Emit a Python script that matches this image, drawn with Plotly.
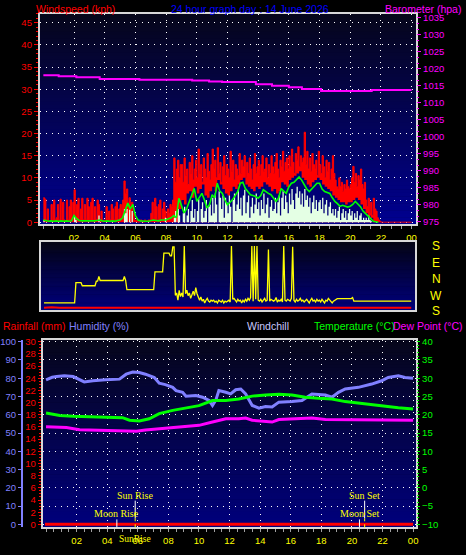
import plotly.graph_objects as go

W, H = 466, 555

# ---------------- data ----------------
hour_ticks = [2, 4, 6, 8, 10, 12, 14, 16, 18, 20, 22, 24]
hour_labels = ["02", "04", "06", "08", "10", "12", "14", "16", "18", "20", "22", "00"]

# wind gust (kph), 5-minute steps from 00:00, last value = 24:00
gust = [
    5.5, 5.2, 0.5, 3.0, 0.3, 0.3, 4.0, 0.3, 5.0, 0.5, 1.0, 4.0,
    0.5, 5.2, 0.3, 4.5, 0.5, 0.3, 5.0, 0.5, 3.5, 5.0, 0.5, 4.5,
    7.3, 0.5, 4.0, 5.4, 0.5, 3.0, 5.4, 0.5, 4.0, 0.5, 5.4, 3.5,
    0.5, 4.5, 5.4, 0.5, 3.5, 0.5, 5.0, 4.0, 0.5, 2.5, 0.3, 0.5,
    0.3, 3.5, 0.5, 2.5, 0.5, 4.0, 3.0, 0.5, 3.5, 4.5, 0.5, 3.0,
    4.0, 0.5, 5.0, 9.3, 6.5, 7.5, 4.0, 5.5, 3.0, 4.5, 2.0, 0.5,
    0.5, 0.3, 0.0, 0.3, 0.5, 0.3, 0.0, 0.5, 0.3, 0.3, 0.5, 0.5,
    2.0, 4.5, 0.5, 5.4, 3.5, 0.5, 4.0, 5.0, 0.5, 3.0, 4.5, 2.5,
    0.5, 3.0, 2.0, 4.0, 3.5, 5.0, 14.5, 9.0, 12.0, 14.0, 10.0, 13.0,
    13.0, 9.0, 14.5, 10.5, 12.0, 8.5, 13.5, 11.0, 15.0, 9.5, 12.0, 14.0,
    10.0, 16.5, 11.0, 13.0, 9.0, 14.5, 12.0, 10.0, 15.5, 11.5, 9.5, 13.0,
    16.5, 12.0, 14.0, 10.0, 16.8, 11.0, 13.5, 9.0, 12.5, 15.0, 10.5, 13.0,
    12.0, 10.0, 16.0, 11.5, 14.0, 9.5, 13.0, 12.0, 10.5, 15.5, 11.0, 14.0,
    12.5, 15.0, 10.0, 13.5, 11.0, 14.5, 12.0, 9.5, 13.0, 15.5, 11.0, 12.5,
    14.0, 10.5, 13.0, 15.0, 11.5, 12.0, 14.5, 10.0, 13.0, 11.0, 15.0, 12.5,
    11.0, 13.5, 15.5, 12.0, 10.0, 14.0, 12.5, 16.0, 11.5, 13.5, 14.5, 12.0,
    15.0, 12.5, 16.5, 13.5, 11.0, 15.5, 14.0, 17.0, 12.5, 15.0, 13.5, 14.5,
    20.3, 13.0, 16.0, 12.0, 14.5, 11.5, 15.5, 13.0, 12.0, 14.0, 10.5, 16.0,
    13.0, 11.0, 15.0, 12.5, 10.0, 14.0, 11.5, 13.5, 9.5, 12.0, 15.0, 11.0,
    9.5, 8.0, 7.5, 10.0, 8.0, 9.0, 7.0, 8.5, 7.5, 9.5, 8.0, 7.5,
    8.5, 10.0, 12.6, 9.0, 11.0, 8.0, 10.5, 9.5, 12.0, 8.5, 7.5, 9.0,
    5.0, 3.5, 5.4, 2.0, 4.5, 1.5, 5.4, 3.0, 2.5, 1.0, 0.5, 0.2,
    0, 0, 0, 0, 0, 0, 0, 0, 0, 0, 0, 0,
    0, 0, 0, 0, 0, 0, 0, 0, 0, 0, 0, 0,
    0]

# wind speed (kph), 5-minute steps
speed = [
    0.5, 0, 0, 0, 0, 0, 0, 0, 0, 0, 0, 0,
    0, 0, 0, 0, 0, 0, 0, 0, 0, 0, 0, 0,
    1.2, 0.5, 0, 0, 0, 0, 0, 0, 0, 0, 0, 0,
    0, 0, 0, 0, 0, 0, 0, 1.5, 0, 0, 0, 0,
    0, 0, 0, 0, 0, 0, 0, 0, 0, 0, 0, 0,
    0, 0, 0, 3.0, 2.0, 3.0, 0, 2.8, 0, 2.5, 0, 0,
    0, 0, 0, 0, 0, 0, 0, 0, 0, 0, 0, 0,
    0, 0, 0, 0, 0, 0, 0, 0, 0, 0, 0, 1.0,
    0, 0, 0, 0, 0, 0, 1.0, 2.5, 0, 3.0, 1.5, 0,
    0, 2.0, 3.5, 0, 1.5, 3.0, 0, 2.5, 5.0, 1.0, 3.0, 0,
    2.5, 5.2, 0, 3.0, 4.5, 1.0, 2.5, 5.0, 0, 3.5, 4.0, 1.5,
    5.5, 2.0, 6.5, 4.0, 0, 7.0, 5.5, 3.0, 6.0, 1.0, 5.5, 4.5,
    2.0, 6.0, 3.5, 0, 5.0, 6.5, 2.5, 4.0, 7.3, 3.0, 5.5, 1.5,
    6.0, 7.3, 2.0, 4.5, 6.0, 1.0, 3.5, 5.5, 2.0, 4.0, 6.5, 3.0,
    4.5, 1.5, 5.0, 3.0, 6.5, 2.0, 4.0, 5.5, 1.0, 3.5, 5.0, 2.5,
    3.0, 5.5, 2.0, 4.5, 6.0, 1.5, 5.5, 7.0, 3.0, 6.0, 4.5, 2.0,
    6.5, 4.0, 7.5, 5.0, 3.0, 6.5, 8.0, 5.5, 7.0, 4.0, 6.5, 3.5,
    7.5, 5.0, 6.0, 3.5, 5.5, 2.0, 4.5, 6.0, 3.0, 5.0, 2.5, 4.5,
    5.0, 3.0, 5.5, 2.0, 4.0, 5.0, 1.5, 3.5, 4.5, 2.0, 3.0, 1.5,
    3.0, 1.0, 2.5, 3.5, 0.5, 2.0, 3.0, 1.0, 2.5, 0.5, 2.0, 3.0,
    1.5, 2.5, 0.5, 2.0, 1.0, 2.5, 0.5, 1.5, 2.0, 0.5, 1.0, 0.5,
    1.0, 0.5, 1.5, 0.5, 0.2, 0, 0, 0, 0, 0, 0, 0,
    0, 0, 0, 0, 0, 0, 0, 0, 0, 0, 0, 0,
    0, 0, 0, 0, 0, 0, 0, 0, 0, 0, 0, 0,
    0]

# wind lull (kph), 10-minute steps
lull = [
    0, 0, 0, 0, 0, 0,  0, 0, 0, 0, 0, 0,  0, 0, 0, 0, 0, 0,  0, 0, 0, 0, 0, 0,
    0, 0, 0, 0, 0, 0,  0, 0, 0, 0, 0, 0,  0, 0, 0, 0, 0, 0,  0, 0, 0, 0, 0, 0,
    0, 0, 0, 0, 0, 3.0,
    5.0, 4.0, 6.5, 7.0, 5.5, 8.0,
    6.5, 7.5, 8.5, 6.0, 5.5, 7.0,
    8.0, 7.0, 9.5, 8.5, 7.5, 6.5,
    6.0, 7.0, 8.0, 7.5, 8.5, 9.5,
    10.0, 8.5, 8.0, 7.5, 7.0, 8.0,
    7.5, 8.0, 9.0, 8.5, 8.0, 7.0,
    7.5, 6.5, 7.0, 9.0, 8.5, 8.0,
    9.5, 10.0, 10.5, 11.0, 11.5, 10.0,
    9.5, 8.5, 8.0, 9.0, 9.5, 10.0,
    9.5, 8.5, 8.0, 7.5, 7.0, 6.0,
    5.5, 5.0, 4.5, 4.5, 4.0, 4.5,
    4.5, 5.0, 5.5, 5.0, 4.0, 3.0,
    2.0, 1.5, 1.0, 0, 0, 0,
    0, 0, 0, 0, 0, 0,  0, 0, 0, 0, 0, 0,
    0]

# average wind speed (kph), 10-minute steps
avg_speed = [
    0.5, 0.3, 0.2, 0.3, 0.2, 0.3,
    0.2, 0.3, 0.2, 0.3, 0.2, 0.3,
    1.5, 0.8, 0.4, 0.3, 0.3, 0.2,
    0.3, 0.2, 0.3, 0.4, 0.5, 0.3,
    0.2, 0.3, 0.2, 0.3, 0.2, 0.4,
    0.5, 1.0, 2.5, 4.3, 3.0, 4.0,
    1.5, 0.5, 0.3, 0.2, 0.2, 0.2,
    0.3, 0.5, 0.4, 0.3, 0.5, 0.5,
    0.5, 0.8, 1.0, 1.5, 1.0, 5.4,
    3.9, 2.1, 3.0, 4.7, 6.0, 7.6,
    4.7, 5.5, 6.5, 5.0, 3.2, 4.0,
    6.2, 5.5, 8.8, 7.0, 6.5, 5.0,
    3.9, 4.5, 5.1, 6.0, 6.9, 8.8,
    9.0, 7.6, 7.0, 6.2, 6.0, 5.8,
    5.4, 6.0, 7.3, 6.8, 6.5, 6.2,
    5.5, 4.7, 5.5, 7.6, 7.0, 6.5,
    8.0, 8.8, 9.0, 9.5, 10.2, 9.5,
    8.4, 7.5, 6.9, 7.5, 8.2, 8.8,
    8.8, 7.5, 6.9, 6.7, 6.5, 5.5,
    4.7, 4.2, 3.6, 3.8, 3.6, 3.4,
    3.6, 4.0, 4.7, 4.2, 3.5, 2.5,
    2.0, 1.3, 0.8, 0.2, 0.1, 0.0,
    None, None, None, None, None, None,
    None, None, None, None, None, None,
    None]

# barometer (hPa)
baro_hours = [0, 0.94, 1.0, 2.15, 3.67, 6.26, 9.7, 10.8, 11.65, 13.85, 14.9,
              16.0, 16.85, 18.1, 20.3, 21.4, 24.0]
baro = [1018.1, 1018.1, 1017.8, 1017.5, 1017.0, 1016.8, 1016.6, 1016.3, 1016.1,
        1015.5, 1015.0, 1014.6, 1014.1, 1013.5, 1013.5, 1013.8, 1013.8]

# wind direction, 5-minute steps, on a scale S(0) W(90) N(180) E(270) S(360)
wind_dir = [
    45, 45, 45, 45, 45, 45, 45, 45, 45, 45, 45, 45,
    45, 45, 45, 45, 45, 45, 45, 45, 45, 45, 45, 45,
    45, 157, 157, 157, 157, 157, 140, 140, 140, 140, 140, 140,
    140, 140, 140, 140, 140, 165, 165, 191, 169, 169, 169, 169,
    169, 169, 169, 169, 169, 169, 169, 169, 169, 169, 169, 169,
    169, 169, 169, 191, 169, 118, 118, 118, 118, 118, 118, 118,
    118, 118, 118, 118, 118, 118, 118, 118, 118, 118, 118, 118,
    118, 118, 118, 217, 217, 217, 217, 217, 217, 217, 320, 320,
    320, 320, 320, 305, 305, 355, 355, 87, 100, 60, 115, 80,
    100, 78, 360, 96, 115, 85, 100, 70, 96, 110, 85, 130,
    96, 70, 60, 78, 55, 65, 45, 60, 70, 55, 50, 60,
    55, 60, 50, 55, 45, 60, 55, 50, 60, 45, 55, 50,
    55, 60, 50, 360, 65, 70, 60, 50, 65, 55, 60, 45,
    60, 50, 65, 55, 70, 60, 75, 360, 55, 360, 65, 360,
    60, 55, 65, 50, 60, 70, 55, 60, 340, 55, 65, 60,
    55, 60, 75, 50, 60, 55, 65, 50, 360, 60, 55, 65,
    60, 55, 70, 355, 60, 50, 65, 55, 60, 70, 55, 60,
    50, 60, 65, 55, 45, 60, 70, 55, 60, 50, 65, 55,
    60, 50, 65, 55, 45, 60, 55, 70, 60, 50, 45, 55,
    60, 69, 69, 69, 69, 69, 69, 69, 69, 69, 69, 69,
    69, 69, 75, 55, 55, 55, 55, 55, 55, 55, 55, 55,
    55, 55, 55, 55, 55, 55, 55, 55, 55, 55, 55, 55,
    55, 55, 55, 55, 55, 55, 55, 55, 55, 55, 55, 55,
    55, 55, 55, 55, 55, 55, 55, 55, 55, 55, 55, 55,
    55]

# second (red) direction trace near the bottom, 30-minute steps
wind_dir2 = [18, 21, 18, 18, 22, 18, 19, 18, 21, 18, 18, 20, 18, 18, 21, 18,
             18, 19, 18, 18, 18, 18, 18, 18, 18, 18, 18, 18, 18, 18, 18, 18,
             18, 18, 18, 18, 18, 18, 18, 18, 18, 20, 18, 21, 18, 20, 18, 21, 18]
dir_labels = ["S", "E", "N", "W", "S"]

# humidity (%)
hum_hours = [0, 0.4, 0.7, 1.2, 1.77, 2.2, 2.5, 3.07, 3.5, 3.9, 4.8, 5.24, 5.67,
             6.1, 6.5, 7.08, 7.4, 7.8, 8.28, 8.5, 8.93, 9.15, 9.8, 10.23, 10.66,
             10.88, 11.1, 11.3, 11.75, 12.07, 12.4, 12.73, 13.05, 13.48, 13.92,
             14.35, 14.78, 15.22, 16.08, 16.73, 17.38, 18.26, 18.69, 19.12,
             19.56, 20.42, 21.29, 21.94, 22.37, 23.03, 23.47, 24.0]
humidity = [79.1, 80.5, 80.9, 81.3, 80.9, 79.1, 78.0, 78.6, 79.0, 79.1, 79.5, 82.2,
            83.4, 83.1, 82.2, 80.4, 77.3, 76.5, 75.0, 73.2, 72.3, 70.1, 70.5, 69.6,
            67.8, 65.1, 68.0, 73.2, 72.3, 71.4, 73.7, 74.1, 71.4, 65.1, 63.6,
            64.5, 64.2, 66.9, 67.3, 67.8, 71.4, 70.8, 69.6, 72.3, 74.1, 75.0,
            76.8, 78.6, 80.4, 81.3, 80.4, 80.0]

# temperature (°C)
temp_hours = [0, 0.9, 1.77, 3.9, 5.0, 5.46, 6.1, 6.75, 7.4, 8.28, 9.15, 10.0,
              10.88, 11.75, 12.6, 13.48, 14.35, 15.22, 16.08, 16.95, 17.82,
              18.69, 19.56, 20.42, 21.29, 22.16, 23.03, 24.0]
temperature = [20.5, 19.8, 19.6, 19.4, 19.2, 18.5, 18.3, 18.9, 20.3, 21.2, 21.8,
               22.5, 23.9, 23.9, 24.3, 25.1, 25.4, 25.6, 25.4, 24.8, 24.5, 24.3,
               23.6, 23.2, 22.7, 22.2, 21.9, 21.6]

# dew point (°C)
dew_hours = [0, 1.33, 2.2, 3.9, 5.9, 6.5, 8.28, 9.37, 10.0, 10.88, 11.75, 12.6,
             13.05, 13.48, 14.35, 14.78, 15.22, 16.08, 16.95, 17.38, 18.26,
             19.56, 21.29, 23.03, 24.0]
dew_point = [16.7, 16.5, 15.9, 15.8, 15.5, 15.8, 16.4, 16.7, 17.1, 18.0, 18.9,
             18.9, 19.1, 18.5, 18.2, 18.0, 18.7, 18.9, 18.9, 19.1, 18.7, 18.7,
             18.6, 18.6, 18.5]

# rainfall (mm)
rain_hours = [-0.07, 24.0]
rainfall = [0, 0]

# sun / moon events (hours)
sun_rise, sun_set = 5.83, 20.83
moon_rise, moon_set = 4.63, 20.49

t5 = [i / 12 for i in range(len(gust))]
t10 = [i / 6 for i in range(len(lull))]
t30 = [i / 2 for i in range(len(wind_dir2))]

# ---------------- figure ----------------
FONT = "Liberation Sans"
fig = go.Figure()

# top panel: wind
fig.add_trace(go.Scatter(x=t5, y=gust, mode="lines", line=dict(color="#ff0000", width=1, shape="hv"),
                         fill="tozeroy", fillcolor="#ff0000", xaxis="x", yaxis="y"))
fig.add_trace(go.Scatter(x=t10, y=lull, mode="lines", line=dict(color="#000076", width=0, shape="hv"),
                         fill="tozeroy", fillcolor="#000076", xaxis="x", yaxis="y"))
fig.add_trace(go.Scatter(x=t5, y=speed, mode="lines", line=dict(color="#e4ffe4", width=0, shape="hv"),
                         fill="tozeroy", fillcolor="#e4ffe4", xaxis="x", yaxis="y"))
fig.add_trace(go.Scatter(x=t10, y=avg_speed, mode="lines", line=dict(color="#00ff00", width=1.6),
                         xaxis="x", yaxis="y", connectgaps=False))
fig.add_trace(go.Scatter(x=baro_hours, y=baro, mode="lines", line=dict(color="#ff00ff", width=2, shape="hv"),
                         xaxis="x", yaxis="y2"))

# middle panel: wind direction
fig.add_trace(go.Scatter(x=t30, y=wind_dir2, mode="lines", line=dict(color="#ff0000", width=2),
                         xaxis="x2", yaxis="y3"))
fig.add_trace(go.Scatter(x=t5, y=wind_dir, mode="lines", line=dict(color="#ffff00", width=1.3),
                         xaxis="x2", yaxis="y3"))

# bottom panel
fig.add_trace(go.Scatter(x=rain_hours, y=rainfall, mode="lines", line=dict(color="#ff0000", width=3),
                         xaxis="x3", yaxis="y5"))
fig.add_trace(go.Scatter(x=hum_hours, y=humidity, mode="lines", line=dict(color="#8080ff", width=3),
                         xaxis="x3", yaxis="y4"))
fig.add_trace(go.Scatter(x=dew_hours, y=dew_point, mode="lines", line=dict(color="#ff00ff", width=3),
                         xaxis="x3", yaxis="y6"))
fig.add_trace(go.Scatter(x=temp_hours, y=temperature, mode="lines", line=dict(color="#00ff00", width=3),
                         xaxis="x3", yaxis="y6"))

def px_x(p):
    return p / W

def px_y(p):
    return 1 - p / H

FRAME = "#d8d8d8"
GRID = dict(showgrid=True, gridcolor="#ffffff", gridwidth=1, griddash="1px,5px")
NOGRID = dict(showgrid=False)

xcommon = dict(tickvals=hour_ticks, ticktext=hour_labels, ticks="outside", ticklen=3,
               tickcolor="#a0a0a0", tickfont=dict(family=FONT, size=9.5, color="#ffff00"),
               showline=True, mirror=True, linecolor=FRAME, linewidth=2, zeroline=False)

fig.update_layout(
    width=W, height=H, autosize=False,
    margin=dict(l=0, r=0, t=0, b=0),
    paper_bgcolor="#000000", plot_bgcolor="#000000",
    showlegend=False,
    xaxis=dict(domain=[px_x(40), px_x(418)], anchor="y", range=[-0.23, 24.3], **xcommon, **GRID,
               minor=dict(tickmode="linear", tick0=0, dtick=2 / 3, ticks="outside", ticklen=3,
                          tickcolor="#a0a0a0", showgrid=False)),
    xaxis2=dict(domain=[px_x(41), px_x(417)], anchor="y3", range=[-0.21, 24.26],
                showticklabels=False, ticks="", showgrid=False, zeroline=False,
                showline=True, mirror=True, linecolor=FRAME, linewidth=2),
    xaxis3=dict(domain=[px_x(43), px_x(418)], anchor="y5", range=[-0.21, 24.2], **xcommon, **GRID,
                minor=dict(tickmode="linear", tick0=0, dtick=0.5, ticks="outside", ticklen=3,
                           tickcolor="#a0a0a0", showgrid=False)),
    yaxis=dict(domain=[px_y(223), px_y(10)], anchor="x", range=[-0.45, 47.0], dtick=5, tick0=0,
               ticks="outside", ticklen=4, tickcolor="#ff0000",
               tickfont=dict(family=FONT, size=9.5, color="#ff0000"),
               minor=dict(dtick=1, tick0=0, ticks="outside", ticklen=2, tickcolor="#ff0000", showgrid=False),
               showline=True, mirror=True, linecolor=FRAME, linewidth=2, zeroline=False, **GRID),
    yaxis2=dict(overlaying="y", anchor="x", side="right", range=[974.33, 1036.16], dtick=5, tick0=975,
                ticks="outside", ticklen=4, tickcolor="#ff00ff",
                tickfont=dict(family=FONT, size=9.5, color="#ff00ff"),
                minor=dict(dtick=5 / 3, tick0=975, ticks="outside", ticklen=2, tickcolor="#ff00ff", showgrid=False),
                showline=False, zeroline=False, **NOGRID),
    yaxis3=dict(domain=[px_y(310), px_y(241)], anchor="x2", range=[5.45, 381.8],
                showticklabels=False, ticks="", zeroline=False, **NOGRID,
                showline=True, mirror=True, linecolor=FRAME, linewidth=2),
    yaxis5=dict(domain=[px_y(530), px_y(340)], anchor="x3", range=[-0.486, 30.324], dtick=2, tick0=0,
                ticks="outside", ticklen=3, tickcolor="#ff0000",
                tickfont=dict(family=FONT, size=9.5, color="#ff0000"),
                minor=dict(dtick=0.5, tick0=0, ticks="outside", ticklen=2, tickcolor="#ff0000", showgrid=False),
                showline=True, mirror=True, linecolor=FRAME, linewidth=2, zeroline=False, **NOGRID),
    yaxis4=dict(overlaying="y5", anchor="free", position=px_x(22), side="left",
                range=[-1.62, 101.08], dtick=10, tick0=0,
                ticks="outside", ticklen=3, tickcolor="#8080ff",
                tickfont=dict(family=FONT, size=9.5, color="#8080ff"),
                showline=True, linecolor="#8080ff", linewidth=2, zeroline=False, **NOGRID),
    yaxis6=dict(overlaying="y5", anchor="x3", side="right", range=[-10.81, 40.54], dtick=5, tick0=-10,
                ticks="outside", ticklen=3, tickcolor="#00ff00",
                tickfont=dict(family=FONT, size=9.5, color="#00ff00"),
                minor=dict(dtick=1, tick0=0, ticks="outside", ticklen=2, tickcolor="#00ff00", showgrid=False),
                showline=False, zeroline=False, **GRID),
)

# plot-area gradients
shapes = []
def gradient(x0, x1, y0, y1, ctop, cbot, n=60):
    for i in range(n):
        f = (i + 0.5) / n
        c = tuple(round(ctop[k] + (cbot[k] - ctop[k]) * f) for k in range(3))
        ya = y0 + (y1 - y0) * i / n
        yb = y0 + (y1 - y0) * (i + 1) / n + 0.6
        shapes.append(dict(type="rect", xref="paper", yref="paper", layer="below",
                           x0=px_x(x0), x1=px_x(x1), y0=px_y(yb), y1=px_y(ya),
                           fillcolor="rgb(%d,%d,%d)" % c, line=dict(width=0)))

gradient(40, 418, 10, 223, (6, 6, 26), (0, 0, 145))
gradient(41, 417, 241, 310, (4, 4, 20), (0, 0, 125))
gradient(43, 418, 340, 530, (6, 6, 26), (0, 0, 125))

# sun / moon markers
for ev in (sun_rise, sun_set):
    shapes.append(dict(type="line", xref="x3", yref="paper", x0=ev, x1=ev, y0=px_y(521), y1=px_y(503),
                       line=dict(color="#ffffff", width=1)))
    shapes.append(dict(type="line", xref="x3", yref="paper", x0=ev, x1=ev, y0=px_y(530), y1=px_y(511),
                       line=dict(color="#ffff00", width=1, dash="dot")))
for ev in (moon_rise, moon_set):
    shapes.append(dict(type="line", xref="x3", yref="paper", x0=ev, x1=ev, y0=px_y(530), y1=px_y(522),
                       line=dict(color="#ffffff", width=1)))
fig.update_layout(shapes=shapes)

ann = []
def label(text, x, y, color, size=10.5, xanchor="left", family=FONT, xref="paper", yref="paper"):
    ann.append(dict(text=text, x=x, y=y, xref=xref, yref=yref, xanchor=xanchor, yanchor="middle",
                    showarrow=False, font=dict(family=family, size=size, color=color)))

label("Windspeed (kph)", px_x(34), px_y(5.5), "#ff0000")
label("24 hour graph day : 14 June 2026", px_x(251), px_y(5.5), "#0000ff", xanchor="center")
label("Barometer (hpa)", px_x(465), px_y(5.5), "#ff00ff", xanchor="right")

label("Rainfall (mm)", px_x(1), px_y(326.5), "#ff0000")
label("Humidity (%)", px_x(67), px_y(326.5), "#8080ff")
label("Windchill", px_x(246), px_y(326.5), "#c8c8ff")
label("Temperature (°C)", px_x(313), px_y(326.5), "#00ff00")
label("Dew Point (°C)", px_x(393), px_y(326.5), "#ff00ff")

dir_label_px = [245, 262, 279, 296, 311]
for t, p in zip(dir_labels, dir_label_px):
    label(t, px_x(438), px_y(p), "#ffff00", size=12, xanchor="center")

SERIF = "Liberation Serif"
label("Sun Rise", sun_rise, px_y(497.5), "#ffff00", size=10, xanchor="center", family=SERIF, xref="x3")
label("Sun Set", sun_set, px_y(497.5), "#ffff00", size=10, xanchor="center", family=SERIF, xref="x3")
label("Moon Rise", moon_rise, px_y(516), "#ffff00", size=10, xanchor="center", family=SERIF, xref="x3")
label("Moon Set", moon_set, px_y(516), "#ffff00", size=10, xanchor="center", family=SERIF, xref="x3")
label("SunRise", sun_rise, px_y(542), "#ffff00", size=9.5, xanchor="center", family=SERIF, xref="x3")

fig.update_layout(annotations=ann)

fig.write_html("out.html", config={"displayModeBar": False},
               post_script="document.body.style.margin='0px';document.body.style.overflow='hidden';")
